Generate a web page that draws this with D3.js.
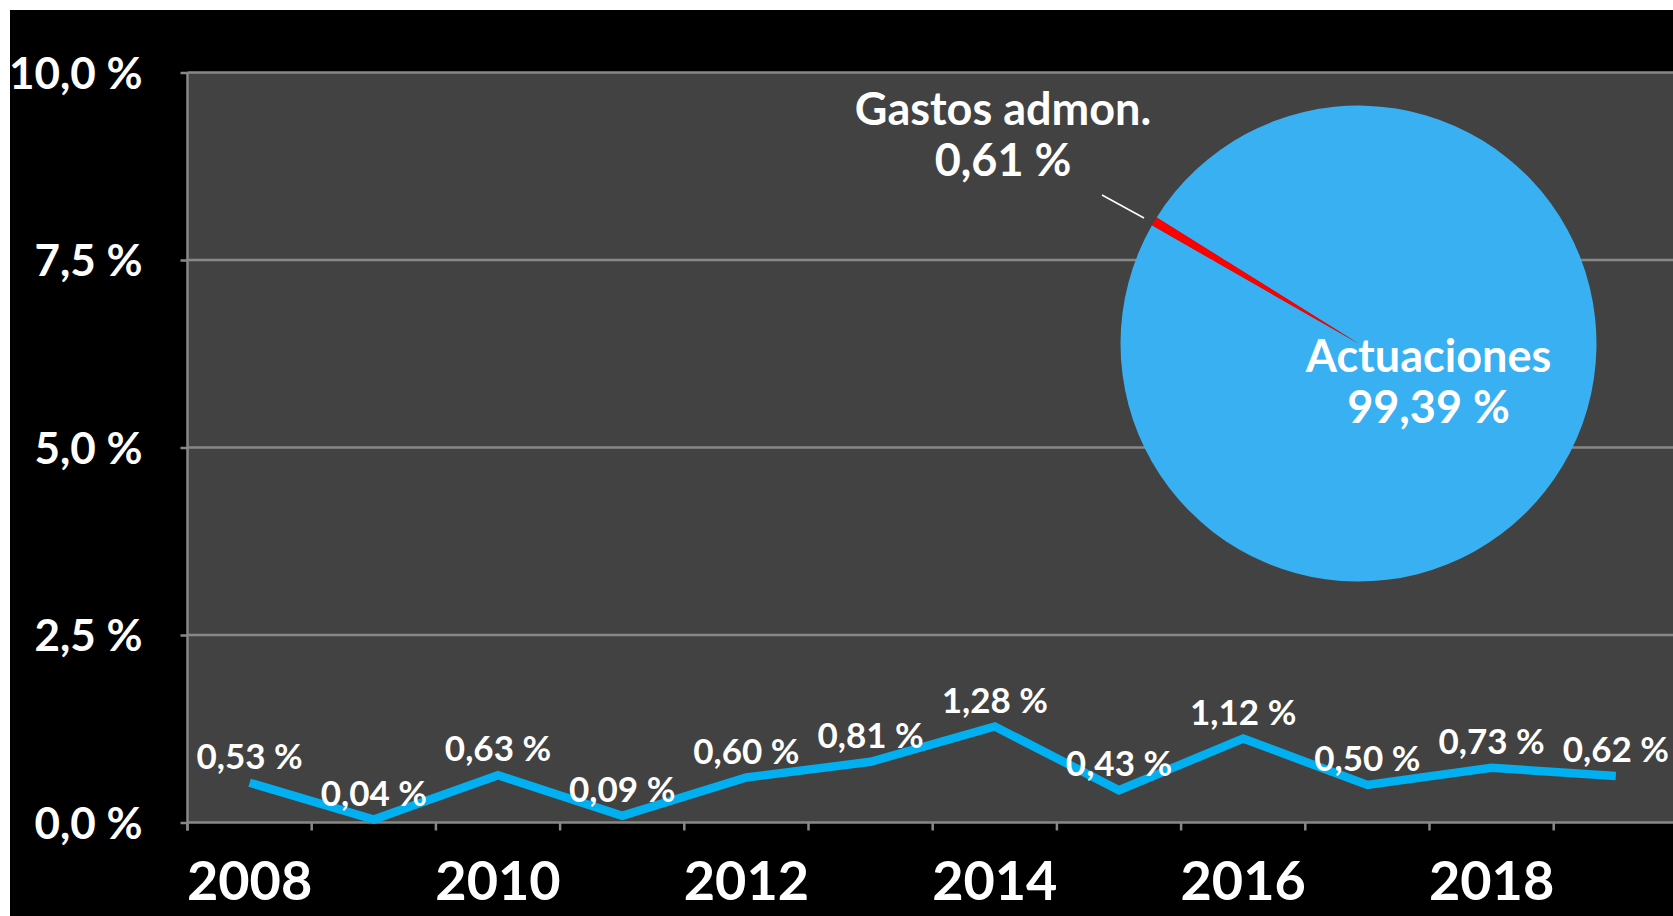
<!DOCTYPE html>
<html>
<head>
<meta charset="utf-8">
<script src="https://cdn.jsdelivr.net/npm/d3@7"></script>
<style>
  body { margin: 0; background: #fff; }
  svg { display: block; font-family: Lato, "Open Sans", sans-serif; font-weight: 700; }
</style>
</head>
<body>
<div id="chart"></div>
<script>
// data
const years = [2008, 2009, 2010, 2011, 2012, 2013, 2014, 2015, 2016, 2017, 2018, 2019];
const shares = [0.53, 0.04, 0.63, 0.09, 0.60, 0.81, 1.28, 0.43, 1.12, 0.50, 0.73, 0.62];
const yearLabels = [2008, 2010, 2012, 2014, 2016, 2018];
const yTicks = [0, 2.5, 5, 7.5, 10];
const pieNames = ["Actuaciones", "Gastos admon."];
const pieValues = [99.39, 0.61];
const pieColors = ["#38b0f2", "#ff0000"];

const W = 1673, H = 916;
const margin = { top: 72.5, left: 187.5, bottom: 93.5 };
const bandW = 124.2;

const es = d3.formatLocale({ decimal: ",", thousands: ".", grouping: [3], currency: ["", " €"] });
const f1 = es.format(".1f"), f2 = es.format(".2f");

const svg = d3.select("#chart").append("svg")
  .attr("width", W)
  .attr("height", H);

// white edge then black chart area
svg.append("rect").attr("width", W).attr("height", H).attr("fill", "#fff");
svg.append("rect").attr("x", 10).attr("y", 10).attr("width", W - 10).attr("height", H - 10).attr("fill", "#000");

const x = d3.scaleBand()
  .domain(years)
  .range([margin.left, margin.left + bandW * years.length])
  .paddingInner(0).paddingOuter(0);

const y = d3.scaleLinear().domain([0, 10]).range([H - margin.bottom, margin.top]);

// plot area
svg.append("rect")
  .attr("x", margin.left).attr("y", y(10))
  .attr("width", W - margin.left).attr("height", y(0) - y(10))
  .attr("fill", "#424242");

// *gridlines + y axis
const yAxis = svg.append("g")
  .attr("transform", "translate(" + margin.left + ",0)")
  .call(d3.axisLeft(y).tickValues(yTicks).tickSize(7).tickPadding(38).tickFormat(d => f1(d) + " %"))
  .attr("font-family", null)
  .attr("font-size", null);
yAxis.select(".domain").remove();
yAxis.selectAll("line").attr("stroke", "#888").attr("stroke-width", 2.5);
yAxis.selectAll("text").attr("fill", "#fff").attr("font-size", 44).attr("dy", "0.36em");

svg.append("g").selectAll("line").data(yTicks).enter().append("line")
  .attr("x1", margin.left).attr("x2", W)
  .attr("y1", d => y(d)).attr("y2", d => y(d))
  .attr("stroke", "#888").attr("stroke-width", 2.5);

svg.append("line")
  .attr("x1", margin.left).attr("x2", margin.left)
  .attr("y1", y(10)).attr("y2", y(0) + 8)
  .attr("stroke", "#888").attr("stroke-width", 2.5);

// *x axis: tick marks on band edges, labels every two years
const edges = years.map(d => x(d)).concat([x(years[years.length - 1]) + bandW]);
svg.append("g").selectAll("line").data(edges).enter().append("line")
  .attr("x1", d => d).attr("x2", d => d)
  .attr("y1", y(0)).attr("y2", y(0) + 8)
  .attr("stroke", "#888").attr("stroke-width", 2.5);

svg.append("g").selectAll("text").data(yearLabels).enter().append("text")
  .attr("x", d => x(d) + bandW / 2)
  .attr("y", 900)
  .attr("text-anchor", "middle")
  .attr("fill", "#fff")
  .attr("font-size", 54)
  .text(d => d);

// *line
const line = d3.line()
  .x((d, i) => x(years[i]) + bandW / 2)
  .y(d => y(d));

svg.append("path")
  .datum(shares)
  .attr("d", line)
  .attr("fill", "none")
  .attr("stroke", "#00b0f0")
  .attr("stroke-width", 8.5)
  .attr("stroke-linejoin", "miter");

// *data labels
svg.append("g").selectAll("text").data(shares).enter().append("text")
  .attr("x", (d, i) => x(years[i]) + bandW / 2)
  .attr("y", d => y(d) - 14)
  .attr("text-anchor", "middle")
  .attr("fill", "#fff")
  .attr("font-size", 35)
  .text(d => f2(d) + " %");

// *pie
const cx = 1358.5, cy = 343.6, r = 238;
const pie = d3.pie().sort(null)
  .startAngle(302 * Math.PI / 180)
  .endAngle(302 * Math.PI / 180 + 2 * Math.PI);
const arcs = pie(pieValues);
const arc = d3.arc().innerRadius(0).outerRadius(r);

const pg = svg.append("g").attr("transform", "translate(" + cx + "," + cy + ")");
pg.selectAll("path").data(arcs).enter().append("path")
  .attr("d", arc)
  .attr("fill", (d, i) => pieColors[i]);

// leader line for the small slice
svg.append("line")
  .attr("x1", 1102).attr("y1", 195)
  .attr("x2", 1144).attr("y2", 218)
  .attr("stroke", "#fff").attr("stroke-width", 1.5);

const pieLabelPos = [[1428.5, 372], [1003, 125]];
pieNames.forEach(function (name, i) {
  const t = svg.append("text")
    .attr("text-anchor", "middle")
    .attr("fill", "#fff")
    .attr("font-size", 45);
  t.append("tspan").attr("x", pieLabelPos[i][0]).attr("y", pieLabelPos[i][1]).text(name);
  t.append("tspan").attr("x", pieLabelPos[i][0]).attr("y", pieLabelPos[i][1] + 51).text(f2(pieValues[i]) + " %");
});
</script>
</body>
</html>
